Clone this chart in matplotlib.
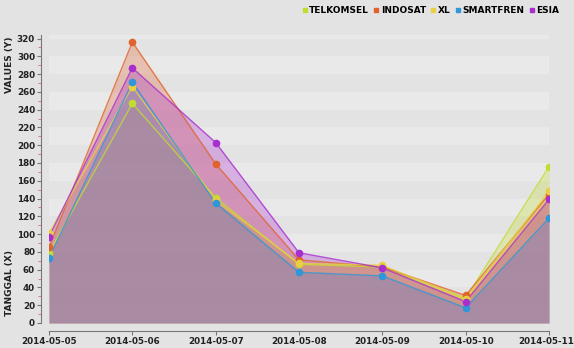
import matplotlib.pyplot as plt
import matplotlib.transforms as mtransforms
import numpy as np

dates = ["2014-05-05", "2014-05-06", "2014-05-07", "2014-05-08",
         "2014-05-09", "2014-05-10", "2014-05-11"]
telkomsel = [79, 247, 141, 66, 63, 28, 176]
indosat = [85, 316, 179, 71, 63, 31, 145]
xl = [101, 266, 138, 67, 65, 27, 148]
smartfren = [73, 271, 135, 57, 53, 17, 118]
esia = [97, 287, 203, 79, 62, 24, 139]

names = ["TELKOMSEL", "INDOSAT", "XL", "SMARTFREN", "ESIA"]
series = [telkomsel, indosat, xl, smartfren, esia]
colors = ["#c2dc30", "#e0632e", "#e8d040", "#2f96d8", "#a82ed0"]

bg = "#e3e3e3"
fig = plt.figure(figsize=(5.74, 3.48), dpi=100, facecolor=bg)
ax = fig.add_axes([49 / 574, 1 - 323 / 348, 500 / 574, 288 / 348])
ax.set_facecolor(bg)

x = np.arange(len(dates))

# alternating horizontal bands
for lo in range(0, 330, 40):
    ax.axhspan(lo, lo + 20, color="#e9e9e9", zorder=0, lw=0)

for vals, c in zip(series, colors):
    ax.fill_between(x, 0, vals, color=c, alpha=0.3, lw=0, zorder=1)
    ax.plot(x, vals, color=c, lw=1, alpha=0.8, zorder=2)
for vals, c, n in zip(series, colors, names):
    ax.plot(x, vals, "o", color=c, ms=4.5, zorder=3, label=n)

ax.set_xlim(0, 6)
ax.set_ylim(0, 324)
ax.set_xticks(x)
ax.set_xticklabels(dates)
ax.set_yticks(np.arange(0, 321, 20))
ax.set_yticks(np.arange(10, 321, 20), minor=True)

for s in ["top", "right"]:
    ax.spines[s].set_visible(False)
for s in ["left", "bottom"]:
    ax.spines[s].set_position(("outward", 6))
    ax.spines[s].set_color("#777777")
    ax.spines[s].set_linewidth(0.8)
ax.tick_params(axis="both", labelsize=6.3, colors="#777777", labelcolor="#222222",
               length=3, width=0.8, pad=1)
ax.tick_params(axis="y", which="minor", colors="#e06080", length=2)
for lab in ax.get_xticklabels() + ax.get_yticklabels():
    lab.set_fontweight("bold")
last = ax.get_xticklabels()[-1]
last.set_transform(last.get_transform() + mtransforms.ScaledTranslation(-3 / 100, 0, fig.dpi_scale_trans))

fig.text(10 / 574, 1 - 65 / 348, "VALUES (Y)", rotation=90, ha="center", va="center",
         fontsize=6.5, fontweight="bold", color="#222222")
fig.text(10 / 574, 1 - 283 / 348, "TANGGAL (X)", rotation=90, ha="center", va="center",
         fontsize=6.5, fontweight="bold", color="#222222")

handles = [plt.Line2D([], [], marker="s", ls="", color=c, ms=3) for c in colors]
fig.legend(handles, names, loc="upper right", bbox_to_anchor=(0.985, 1.0), ncol=5,
           frameon=False, handlelength=0.6, handletextpad=0.2,
           columnspacing=0.5, borderaxespad=0.3, prop={"weight": "bold", "size": 6.5})

fig.savefig("out.png", dpi=100, facecolor=bg)
